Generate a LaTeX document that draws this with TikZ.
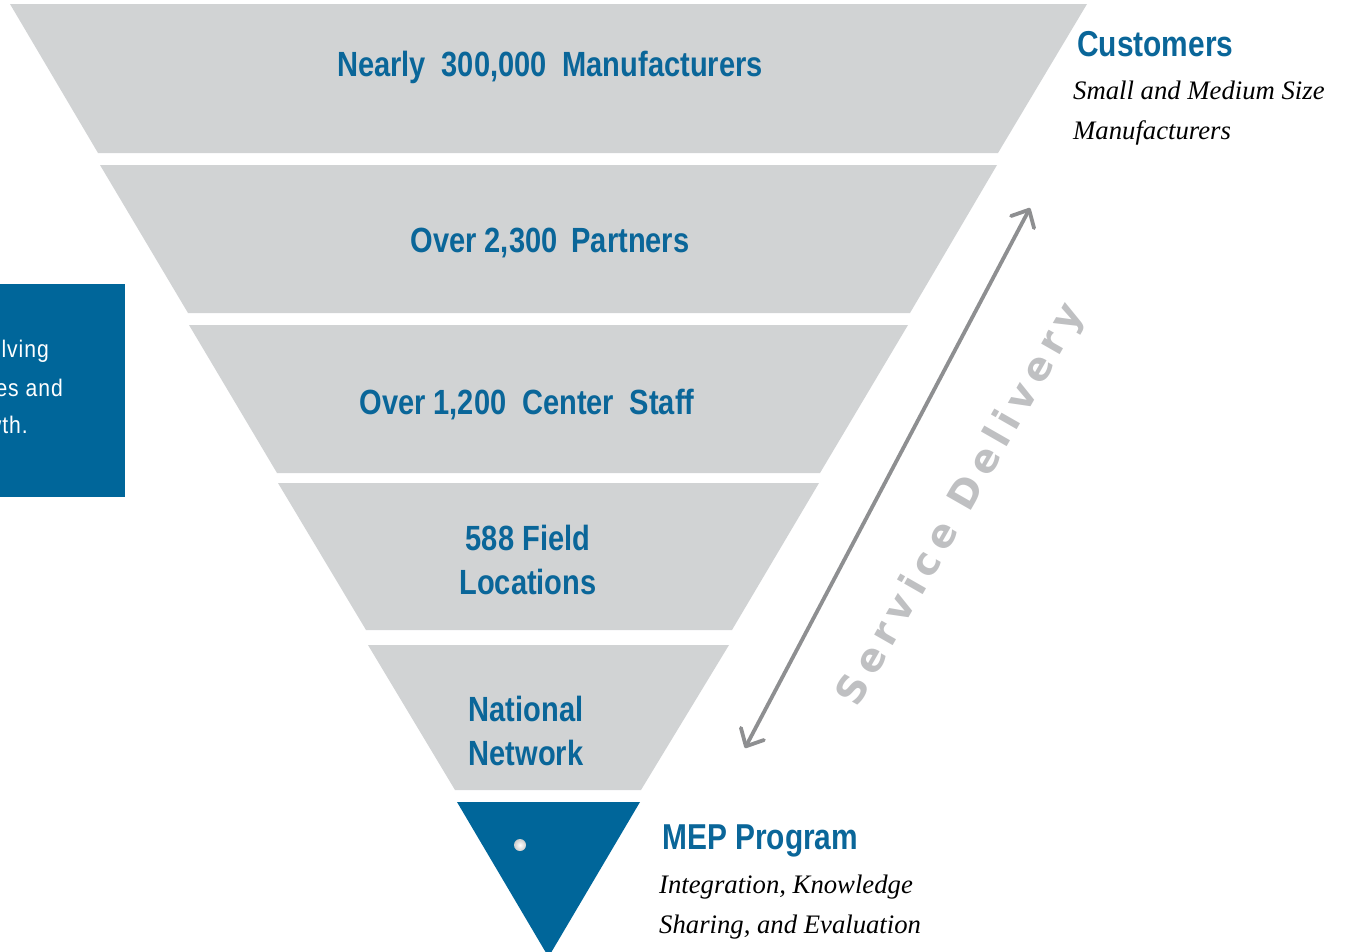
\documentclass[tikz,border=0pt]{standalone}
\usepackage{fontspec}
\usetikzlibrary{arrows.meta}
\newfontfamily\lblfont[FakeStretch=0.83]{Liberation Sans}
\newfontfamily\itfont{Liberation Serif}
\newfontfamily\sdfont[LetterSpace=18]{DejaVu Sans}
\newfontfamily\boxfont[FakeStretch=0.88,LetterSpace=4]{Liberation Sans}
\definecolor{bandgray}{HTML}{D1D3D4}
\definecolor{mepblue}{HTML}{00669A}
\definecolor{txtblue}{HTML}{0A6699}
\definecolor{arrgray}{HTML}{8E8F91}
\definecolor{sdgray}{HTML}{BFC0C2}
\tikzset{
  band/.style={fill=bandgray, draw=none},
  lbl/.style={text=txtblue, font=\lblfont\bfseries\fontsize{35}{44}\selectfont, align=center, inner sep=0pt},
  head/.style={text=txtblue, font=\lblfont\bfseries\fontsize{36}{42}\selectfont, anchor=base west, inner sep=0pt},
  itl/.style={font=\itfont\itshape\fontsize{26.7}{40}\selectfont, anchor=base west, inner sep=0pt},
  boxtxt/.style={text=white, font=\boxfont\fontsize{24}{30}\selectfont, anchor=base east, inner sep=0pt},
}
\begin{document}
\begin{tikzpicture}[x=1pt,y=-1pt]
\useasboundingbox (0,0) rectangle (1347,951);
% bands
\fill[band] (10,4) -- (1087,4) -- (998,153) -- (98,153) -- cycle;
\fill[band] (100,165) -- (997,165) -- (910,313) -- (188,313) -- cycle;
\fill[band] (189,325) -- (908,325) -- (820,473) -- (277,473) -- cycle;
\fill[band] (278,483) -- (819,483) -- (732,630) -- (366,630) -- cycle;
\fill[band] (368,645) -- (729,645) -- (641,790) -- (455,790) -- cycle;
\fill[mepblue] (457,802) -- (640,802) -- (548.5,957) -- cycle;
% small dot
\shade[inner color=white, outer color=gray!40] (520,845) circle (6);
% left box
\fill[mepblue] (0,284) rectangle (125,497);
\begin{scope}
\clip (0,284) rectangle (125,497);
\node[boxtxt] (b1) at (49,357) {lving};
\node[boxtxt] (b2) at (63,396) {es and};
\node[boxtxt] (b3) at (28,433) {wth.};
\end{scope}
% labels
\node[lbl] (l1) at (550,67) {Nearly\hspace{0.45em}300,000\hspace{0.45em}Manufacturers};
\node[lbl] (l2) at (550,243) {Over 2,300\hspace{0.4em}Partners};
\node[lbl] (l3) at (527,405) {Over 1,200\hspace{0.45em}Center\hspace{0.45em}Staff};
\node[lbl] (l4) at (528,560) {588 Field\\Locations};
\node[lbl] (l5) at (526,731) {National\\Network};
% right texts
\node[head] (cu) at (1077,56) {Customers};
\node[itl] (cu1) at (1073,99) {Small and Medium Size};
\node[itl] (cu2) at (1073,139) {Manufacturers};
\node[head] (mep) at (662,849) {MEP Program};
\node[itl] (mep1) at (659,893) {Integration, Knowledge};
\node[itl] (mep2) at (659,933) {Sharing, and Evaluation};
% service delivery arrow
\coordinate (aB) at (745,748);
\coordinate (aT) at (1030,208);
\draw[arrgray, line width=3.8pt, line cap=round,
  {Straight Barb[length=14pt,width=26pt,line width=3.8pt,round]}-{Straight Barb[length=14pt,width=26pt,line width=3.8pt,round]}] (aB) -- (aT);
\node[text=sdgray, font=\sdfont\bfseries\fontsize{39}{44}\selectfont, rotate=60.2, inner sep=0pt] (sd) at (962,505) {Service Delivery};
\end{tikzpicture}
\end{document}
